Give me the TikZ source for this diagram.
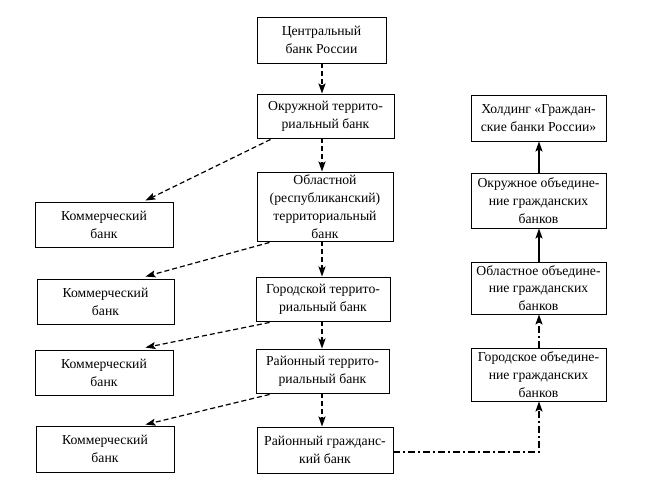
\documentclass[tikz,border=0pt]{standalone}
\usepackage{fontspec}
\setmainfont{Liberation Serif}
\usetikzlibrary{arrows.meta,calc}
\begin{document}
\begin{tikzpicture}[x=1pt,y=-1pt,
  box/.style={draw,line width=0.9pt,rectangle,inner sep=0pt,align=center,
    font=\fontsize{13.7}{17.8}\selectfont},
  vdash/.style={line width=1.8pt,dash pattern=on 5pt off 3pt,
    -{Stealth[length=10pt,width=7pt,inset=2pt]}},
  ddash/.style={line width=1.2pt,dash pattern=on 5pt off 3pt,
    -{Stealth[length=10pt,width=7pt,inset=2pt]}},
  solidarr/.style={line width=1.8pt,-{Stealth[length=10pt,width=7pt,inset=2pt]}},
  dashdot/.style={line width=1.6pt,dash pattern=on 7pt off 3pt on 2pt off 3pt,
    -{Stealth[length=10pt,width=7pt,inset=2pt]}}]
\useasboundingbox (0,0) rectangle (658,492);
% centre column
\node[box,minimum width=129,minimum height=46] (cbr) at (321.5,40) {Центральный\\банк России};
\node[box,minimum width=137,minimum height=44] (okr) at (325.5,116) {Окружной террито-\\риальный банк};
\node[box,minimum width=136,minimum height=69] (obl) at (325,206.5) {Областной\\(республиканский)\\территориальный\\банк};
\node[box,minimum width=134,minimum height=44] (gor) at (323,299) {Городской террито-\\риальный банк};
\node[box,minimum width=133,minimum height=44] (ray) at (322.5,371) {Районный террито-\\риальный банк};
\node[box,minimum width=136,minimum height=46] (rg) at (325,450) {Районный гражданс-\\кий банк};
% left column
\node[box,minimum width=138,minimum height=45] (k1) at (104,224.5) {Коммерческий\\банк};
\node[box,minimum width=137,minimum height=45] (k2) at (105.5,301.5) {Коммерческий\\банк};
\node[box,minimum width=138,minimum height=45] (k3) at (104,372.5) {Коммерческий\\банк};
\node[box,minimum width=138,minimum height=46] (k4) at (105,449) {Коммерческий\\банк};
% right column
\node[box,minimum width=135,minimum height=46] (hold) at (538.5,118) {Холдинг «Граждан-\\ские банки России»};
\node[box,minimum width=135,minimum height=55] (okro) at (538.5,200.5) {Окружное объедине-\\ние гражданских\\банков};
\node[box,minimum width=135,minimum height=52] (oblo) at (538.5,288) {Областное объедине-\\ние гражданских\\банков};
\node[box,minimum width=135,minimum height=53] (goro) at (538.5,374.5) {Городское объедине-\\ние гражданских\\банков};
% axes
\coordinate (ax) at (322,0);
\coordinate (rx) at (539,0);
% vertical dashed arrows
\draw[vdash] (cbr.south -| ax) -- (okr.north -| ax);
\draw[vdash] (okr.south -| ax) -- (obl.north -| ax);
\draw[vdash] (obl.south -| ax) -- (gor.north -| ax);
\draw[vdash] (gor.south -| ax) -- (ray.north -| ax);
\draw[vdash] (ray.south -| ax) -- (rg.north -| ax);
% diagonal dashed arrows
\draw[ddash] ($(okr.south west)+(14,1)$) -- ($(k1.north east)+(-28,-1)$);
\draw[ddash] ($(obl.south west)+(13,1)$) -- ($(k2.north east)+(-29,-2)$);
\draw[ddash] ($(gor.south west)+(14,1)$) -- ($(k3.north east)+(-28,-2)$);
\draw[ddash] ($(ray.south west)+(14,1)$) -- ($(k4.north east)+(-29,-1)$);
% right column arrows
\draw[solidarr] (okro.north -| rx) -- (hold.south -| rx);
\draw[solidarr] (oblo.north -| rx) -- (okro.south -| rx);
\draw[dashdot] (goro.north -| rx) -- (oblo.south -| rx);
\coordinate (corner) at (539,452);
\draw[dashdot] (rg.east |- corner) -- (corner) -- (goro.south -| rx);
\end{tikzpicture}
\end{document}
